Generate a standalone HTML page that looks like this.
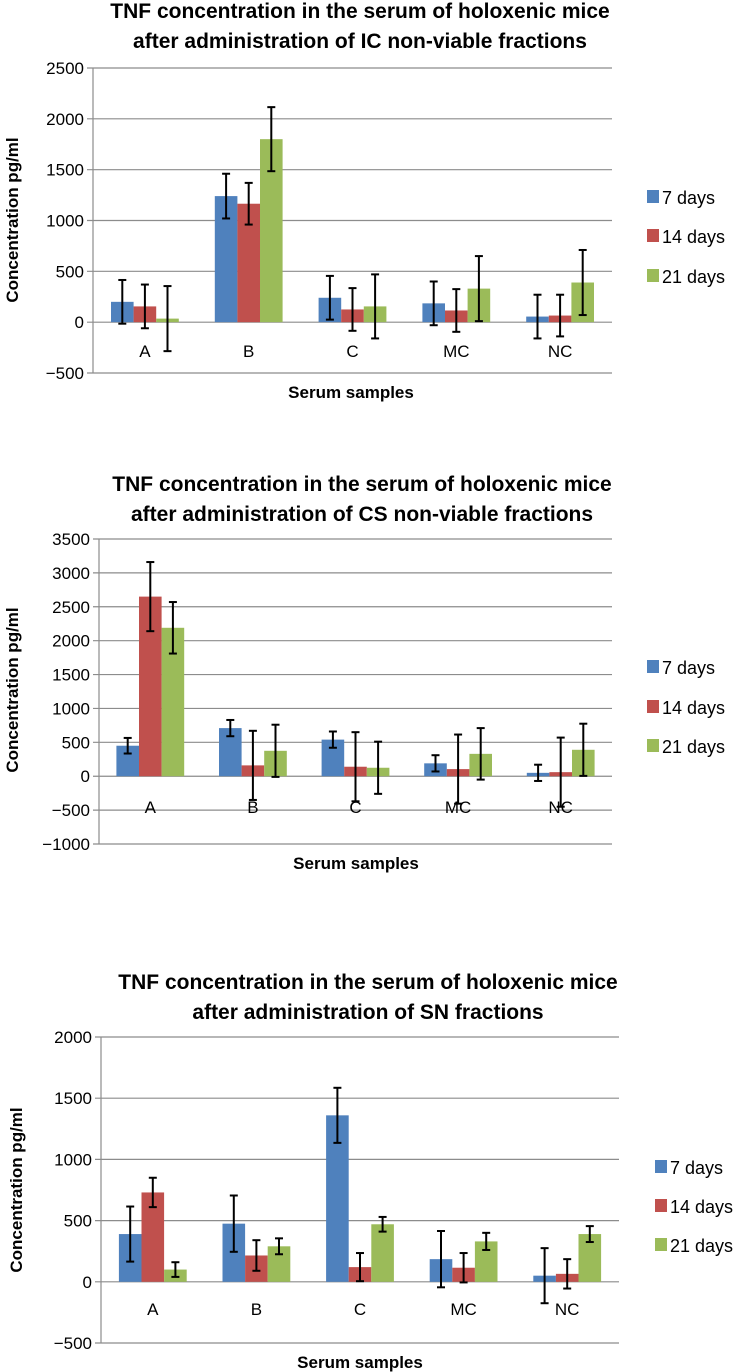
<!DOCTYPE html>
<html><head><meta charset="utf-8">
<style>
html,body{margin:0;padding:0;background:#fff;}
svg{display:block;font-family:"Liberation Sans Narrow","Liberation Sans",sans-serif;}
</style></head>
<body>
<svg id="root" width="738" height="1372" viewBox="0 0 738 1372"></svg>
<script>
const categories = ["A","B","C","MC","NC"];
const seriesNames = ["7 days","14 days","21 days"];
// Chart 1: IC non-viable
const ic7 = [200,1240,240,185,55];
const ic14 = [155,1165,125,115,65];
const ic21 = [35,1800,155,330,390];
const ic7Err = [215,220,215,215,215];
const ic14Err = [215,205,210,210,205];
const ic21Err = [320,315,315,320,320];
const icTicks = [2500,2000,1500,1000,500,0,-500];
// Chart 2: CS non-viable
const cs7 = [450,710,540,190,50];
const cs14 = [2650,160,140,105,60];
const cs21 = [2190,375,125,330,390];
const cs7Err = [115,120,120,120,120];
const cs14Err = [510,510,510,510,510];
const cs21Err = [380,385,385,380,385];
const csTicks = [3500,3000,2500,2000,1500,1000,500,0,-500,-1000];
// Chart 3: SN fractions
const sn7 = [390,475,1360,185,50];
const sn14 = [730,215,120,115,65];
const sn21 = [100,290,470,330,390];
const sn7Err = [225,230,225,230,225];
const sn14Err = [120,125,115,120,120];
const sn21Err = [60,65,60,70,65];
const snTicks = [2000,1500,1000,500,0,-500];

const colors = ["#4F81BD","#C0504D","#9BBB59"];
const NS = "http://www.w3.org/2000/svg";
const root = document.getElementById('root');
function mk(tag, attrs, parent, text){
  const e = document.createElementNS(NS, tag);
  for (const k in attrs) e.setAttribute(k, attrs[k]);
  if (text !== undefined) e.textContent = text;
  parent.appendChild(e);
  return e;
}

function drawChart(cfg){
  const g = mk('g', {}, root);
  
  
  const ticks = cfg.ticks;
  const vmax = Math.max(...ticks), vmin = Math.min(...ticks);
  const y = v => cfg.top + (vmax - v) / (vmax - vmin) * (cfg.bottom - cfg.top);
  const catW = (cfg.right - cfg.left) / categories.length;
  const barW = 22.6;
  const x = (ci, si) => cfg.left + catW * ci + catW / 2 + (si - 1.5) * barW;

  // title
  cfg.title.forEach((t, i) => {
    const tt = mk('text', {x: cfg.titleX, y: cfg.titleY[i], 'text-anchor': 'middle', 'font-size': 21, 'font-weight': 'bold', fill: '#000'}, g, t);
    
    
  });
  // gridlines + tick labels
  ticks.forEach(tv => {
    const ln = mk('line', {x1: cfg.left - 6, x2: cfg.right, y1: y(tv), y2: y(tv), stroke: '#8c8c8c', 'stroke-width': 1.2}, g);
    
    
    const lb = mk('text', {x: cfg.left - 9, y: y(tv) + 6, 'text-anchor': 'end', 'font-size': 17, fill: '#000'}, g, (tv < 0 ? '\u2212' + Math.abs(tv) : String(tv)));
    
    
  });
  const ax = mk('line', {x1: cfg.left, x2: cfg.left, y1: cfg.top, y2: cfg.bottom, stroke: '#8c8c8c', 'stroke-width': 1.2}, g);
  
  

  // bars
  cfg.series.forEach((vals, si) => {
    vals.forEach((v, ci) => {
      const y0 = y(0), yv = y(v);
      const r = mk('rect', {x: x(ci, si), y: Math.min(y0, yv), width: barW, height: Math.abs(y0 - yv), fill: colors[si]}, g);
      
      
    });
  });
  // x category labels (drawn over bars)
  categories.forEach((c, ci) => {
    const t = mk('text', {x: cfg.left + catW * ci + catW / 2, y: cfg.catY, 'text-anchor': 'middle', 'font-size': 17, fill: '#000'}, g, c);
    
    
  });
  // error bars
  cfg.series.forEach((vals, si) => {
    vals.forEach((v, ci) => {
      const e = cfg.errs[si][ci];
      const cx = x(ci, si) + barW / 2;
      const eg = mk('g', {stroke: '#000', 'stroke-width': 2}, g);
      
      
      mk('line', {x1: cx, x2: cx, y1: y(v + e), y2: y(v - e)}, eg);
      mk('line', {x1: cx - 4, x2: cx + 4, y1: y(v + e), y2: y(v + e)}, eg);
      mk('line', {x1: cx - 4, x2: cx + 4, y1: y(v - e), y2: y(v - e)}, eg);
    });
  });
  // axis titles
  const xt = mk('text', {x: cfg.xTitleX, y: cfg.xTitleY, 'text-anchor': 'middle', 'font-size': 17, 'font-weight': 'bold', fill: '#000'}, g, 'Serum samples');
  
  
  const yt = mk('text', {x: 0, y: 0, 'text-anchor': 'middle', 'font-size': 17, 'font-weight': 'bold', fill: '#000', transform: 'translate(' + cfg.yTitleX + ',' + cfg.yTitleY + ') rotate(-90)', 'font-family': '"Liberation Sans",sans-serif'}, g, 'Concentration pg/ml');
  
  
  // legend
  seriesNames.forEach((n, si) => {
    const lg = mk('g', {}, g);
    
    
    const ly = cfg.legendY[si];
    mk('rect', {x: cfg.legendX, y: ly - 8, width: 12, height: 13, fill: colors[si]}, lg);
    mk('text', {x: cfg.legendX + 15, y: ly + 6, 'font-size': 18, fill: '#000'}, lg, n);
  });
}

drawChart({name: 'chart-ic-fractions', title: ['TNF concentration in the serum of holoxenic mice', 'after administration of IC non-viable fractions'],
  titleX: 360, titleY: [18, 48], left: 93, right: 612, top: 68, bottom: 373, ticks: icTicks,
  series: [ic7, ic14, ic21], errs: [ic7Err, ic14Err, ic21Err], catY: 357, xTitleX: 351, xTitleY: 398,
  yTitleX: 18, yTitleY: 220, legendX: 647, legendY: [198, 237, 277]});
drawChart({name: 'chart-cs-fractions', title: ['TNF concentration in the serum of holoxenic mice', 'after administration of CS non-viable fractions'],
  titleX: 362, titleY: [491, 521], left: 99, right: 612, top: 539, bottom: 844, ticks: csTicks,
  series: [cs7, cs14, cs21], errs: [cs7Err, cs14Err, cs21Err], catY: 813, xTitleX: 356, xTitleY: 869,
  yTitleX: 18, yTitleY: 690, legendX: 647, legendY: [668, 708, 747]});
drawChart({name: 'chart-sn-fractions', title: ['TNF concentration in the serum of holoxenic mice', 'after administration of SN fractions'],
  titleX: 368, titleY: [989, 1019], left: 101, right: 619, top: 1037, bottom: 1343, ticks: snTicks,
  series: [sn7, sn14, sn21], errs: [sn7Err, sn14Err, sn21Err], catY: 1315, xTitleX: 360, xTitleY: 1368,
  yTitleX: 22, yTitleY: 1190, legendX: 655, legendY: [1168, 1207, 1246]});
</script>
</body></html>
